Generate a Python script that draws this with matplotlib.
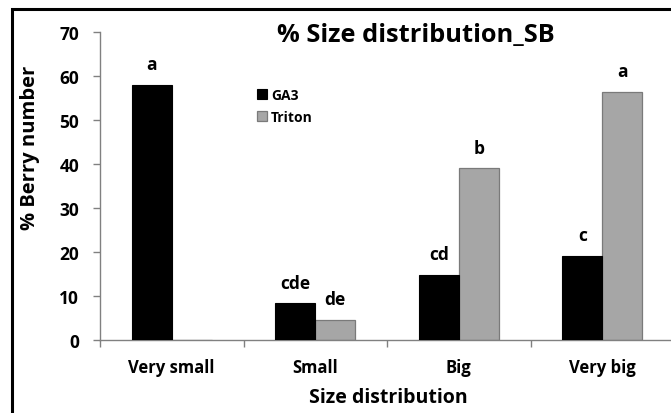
import matplotlib
matplotlib.use("Agg")
import matplotlib.pyplot as plt
from matplotlib.patches import Rectangle
import numpy as np

categories = ["Very small", "Small", "Big", "Very big"]
ga3 = [58.0, 8.4, 14.8, 19.2]
triton = [0.0, 4.6, 39.1, 56.4]
ga3_letters = ["a", "cde", "cd", "c"]
triton_letters = ["", "de", "b", "a"]
yticks = [0, 10, 20, 30, 40, 50, 60, 70]

plt.rcParams['font.family'] = ['Open Sans', 'DejaVu Sans']
plt.rcParams['font.weight'] = 'bold'

W, H = 671, 414
fig = plt.figure(figsize=(W / 100, H / 100), dpi=100)
fig.patches.append(Rectangle((12 / W, -0.1), 1.2, (414 - 10) / H + 0.1,
                             transform=fig.transFigure, fill=False,
                             edgecolor='black', linewidth=2.2))

ax = fig.add_axes([100 / W, (H - 341) / H, 574 / W, (341 - 33) / H])
x = np.arange(len(categories))
bw = 0.279
ax.bar(x - bw / 2, ga3, bw, color='black', edgecolor='black', linewidth=0.8,
       label='GA3', zorder=3)
ax.bar(x + bw / 2, triton, bw, color='#a6a6a6', edgecolor='#7a7a7a', linewidth=0.9,
       label='Triton', zorder=1)

for xi, v, t in zip(x - bw / 2, ga3, ga3_letters):
    if t:
        ax.text(xi, v + 2.6, t, ha='center', va='bottom', fontsize=12.5, fontweight='bold')
for xi, v, t in zip(x + bw / 2, triton, triton_letters):
    if t:
        ax.text(xi, v + 2.6, t, ha='center', va='bottom', fontsize=12.5, fontweight='bold')

ax.set_xlim(-0.5, 3.5)
ax.set_ylim(0, 70)
ax.set_yticks(yticks)
ax.set_yticklabels([str(t) for t in yticks], fontsize=12.5, fontweight='bold')
ax.set_xticks(x)
ax.set_xticklabels(categories, fontsize=12, fontweight='bold')
ax.tick_params(axis='x', length=0, pad=13)
ax.set_xticks(np.arange(-0.5, 4.0, 1.0), minor=True)
ax.tick_params(axis='x', which='minor', length=5, color='#808080', width=1)
ax.tick_params(axis='y', length=5, color='#808080', width=1, pad=10)
for s in ['top', 'right']:
    ax.spines[s].set_visible(False)
for s in ['left', 'bottom']:
    ax.spines[s].set_color('#808080')
    ax.spines[s].set_linewidth(1)
    ax.spines[s].set_zorder(2)

fig.text(30 / W, (H - 148) / H, '% Berry number', rotation=90, ha='center', va='center',
         fontsize=14.5, fontweight='bold')
fig.text(388 / W, (H - 398) / H, 'Size distribution', ha='center', va='center',
         fontsize=14, fontweight='bold')

fig.text(416 / W, (H - 35) / H, '% Size distribution_SB', ha='center', va='center',
         fontsize=18.3, fontweight='bold')

leg = ax.legend(loc='upper left', bbox_to_anchor=((257 - 100) / 574, (341 - 89) / 308),
                frameon=False, fontsize=10, handlelength=0.7, handleheight=0.7,
                handletextpad=0.3, labelspacing=0.55, borderpad=0, borderaxespad=0)
for t in leg.get_texts():
    t.set_fontweight('bold')

fig.savefig('out.png', dpi=100)
